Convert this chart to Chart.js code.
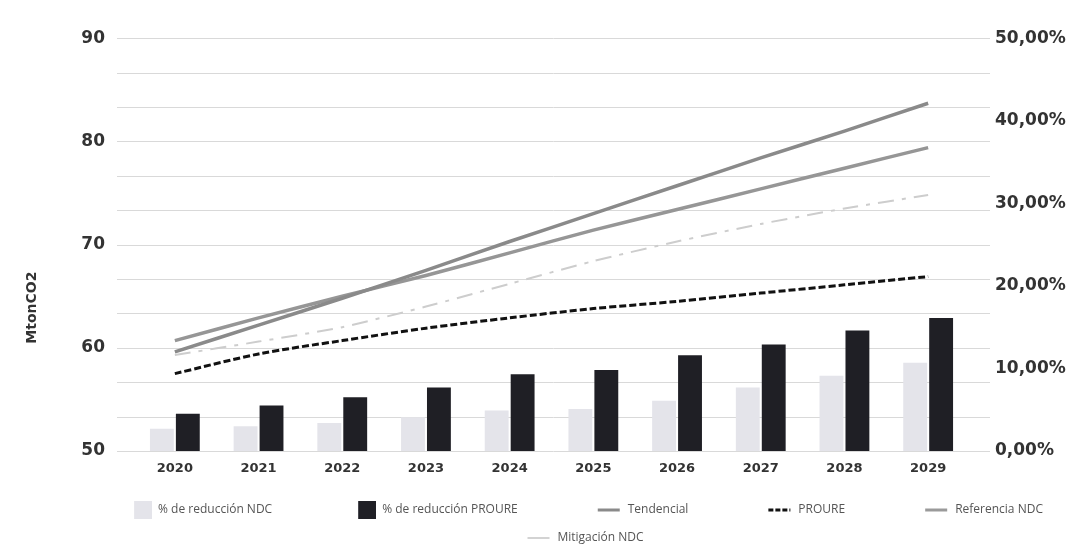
<!DOCTYPE html>
<html><head><meta charset="utf-8">
<script src="https://cdn.jsdelivr.net/npm/chart.js@4.4.1/dist/chart.umd.min.js"></script>
<style>html,body{margin:0;padding:0;background:#fff;}#wrap{width:1087px;height:554px;}</style>
</head><body><div id="wrap"><canvas id="c" width="1087" height="554"></canvas></div>
<script>
const years = ['2020','2021','2022','2023','2024','2025','2026','2027','2028','2029'];
const reduccionNDC = [2.7, 3.0, 3.4, 4.1, 4.9, 5.1, 6.1, 7.7, 9.1, 10.7];
const reduccionPROURE = [4.5, 5.5, 6.5, 7.7, 9.3, 9.8, 11.6, 12.9, 14.6, 16.1];
const tendencial = [59.6, 62.2, 64.8, 67.5, 70.3, 73.0, 75.7, 78.4, 81.0, 83.7];
const proure = [57.5, 59.4, 60.7, 61.9, 62.9, 63.8, 64.5, 65.3, 66.1, 66.9];
const referenciaNDC = [60.7, 62.9, 65.0, 67.0, 69.2, 71.4, 73.4, 75.4, 77.4, 79.4];
const mitigacionNDC = [59.3, 60.6, 62.0, 64.0, 66.2, 68.4, 70.3, 72.0, 73.5, 74.8];
const leftMin = 50, leftMax = 90, leftStep = 10;
const rightMin = 0, rightMax = 50, rightStep = 10;
const gridDivisions = 12;

Chart.defaults.font.family = "'DejaVu Sans', sans-serif";

const SW = 88;
function sym(kind, color, dash, lw) {
  const W = SW, H = 18;
  const c = document.createElement('canvas'); c.width = W; c.height = H;
  const g = c.getContext('2d');
  if (kind === 'rect') { g.fillStyle = color; g.fillRect(W - 18, 0, 18, 18); }
  else {
    g.strokeStyle = color; g.lineWidth = lw; g.setLineDash(dash || []);
    g.beginPath(); g.moveTo(W - 24, H / 2); g.lineTo(W - 2, H / 2); g.stroke();
  }
  return c;
}
const symbols = [
  sym('rect', '#e4e4ea'),
  sym('rect', '#1f1f25'),
  sym('line', '#8a8a8a', [], 3),
  sym('line', '#111111', [5, 2], 3),
  sym('line', '#9a9a9a', [], 3),
  sym('line', '#c4c4c4', [], 1.5)
];

const gridPlugin = {
  id: 'grid12',
  beforeDatasetsDraw(chart) {
    const {ctx, chartArea, scales} = chart;
    const y = scales.y;
    ctx.save();
    ctx.strokeStyle = '#d9d9d9'; ctx.lineWidth = 1;
    for (let i = 0; i <= gridDivisions; i++) {
      const py = Math.round(y.getPixelForValue(leftMin + i * (leftMax - leftMin) / gridDivisions)) + 0.5;
      ctx.beginPath(); ctx.moveTo(chartArea.left - 16, py); ctx.lineTo(chartArea.right + 20, py); ctx.stroke();
    }
    ctx.restore();
  }
};

new Chart(document.getElementById('c'), {
  data: {
    labels: years,
    datasets: [
      { type: 'bar', label: '% de reducción NDC', data: reduccionNDC, yAxisID: 'y1', backgroundColor: '#e4e4ea', order: 2, categoryPercentage: 0.62, barPercentage: 0.92 },
      { type: 'bar', label: '% de reducción PROURE', data: reduccionPROURE, yAxisID: 'y1', backgroundColor: '#1f1f25', order: 2, categoryPercentage: 0.62, barPercentage: 0.92 },
      { type: 'line', label: 'Tendencial', data: tendencial, yAxisID: 'y', borderColor: '#8a8a8a', borderWidth: 3.5, pointRadius: 0, tension: 0.2, order: 1 },
      { type: 'line', label: 'PROURE', data: proure, yAxisID: 'y', borderColor: '#111111', borderWidth: 3, borderDash: [7, 3], pointRadius: 0, tension: 0.3, order: 0 },
      { type: 'line', label: 'Referencia NDC', data: referenciaNDC, yAxisID: 'y', borderColor: '#969696', borderWidth: 3.5, pointRadius: 0, tension: 0.2, order: 1 },
      { type: 'line', label: 'Mitigación NDC', data: mitigacionNDC, yAxisID: 'y', borderColor: '#cdcdcd', borderWidth: 2, borderDash: [16, 8, 4, 8], pointRadius: 0, tension: 0.2, order: 1 }
    ]
  },
  options: {
    responsive: false, animation: false, devicePixelRatio: 1,
    layout: { padding: { left: 20, right: 0, top: 38, bottom: 0 } },
    plugins: {
      tooltip: { enabled: false },
      legend: {
        position: 'bottom',
        labels: {
          usePointStyle: true, pointStyleWidth: SW, padding: 16,
          font: { size: 12, family: "'Open Sans', sans-serif" }, color: '#555',
          generateLabels(chart) {
            return chart.data.datasets.map((ds, i) => ({
              text: ds.label, pointStyle: symbols[i], fillStyle: 'transparent', strokeStyle: 'transparent',
              lineWidth: 0, hidden: false, datasetIndex: i, fontColor: '#555'
            }));
          }
        }
      }
    },
    scales: {
      x: {
        grid: { display: false, drawTicks: false }, border: { display: false },
        ticks: { padding: 10, color: '#333', font: { size: 13, weight: 'bold' } },
        afterFit(s) { s.height = 37; }
      },
      y: {
        position: 'left', min: leftMin, max: leftMax,
        grid: { display: false, drawTicks: false }, border: { display: false },
        ticks: { stepSize: leftStep, padding: 28, color: '#333', font: { size: 17, weight: 'bold' } },
        title: { display: true, text: 'MtonCO2' + '\u2003'.repeat(9), color: '#333', font: { size: 14, weight: 'bold' } },
        afterFit(s) { s.width = 113; }
      },
      y1: {
        position: 'right', min: rightMin, max: rightMax,
        grid: { display: false, drawTicks: false }, border: { display: false },
        ticks: { stepSize: rightStep, padding: 25, color: '#333', font: { size: 17, weight: 'bold' },
          callback: v => v.toFixed(2).replace('.', ',') + '%' },
        afterFit(s) { s.width = 117; }
      }
    }
  },
  plugins: [gridPlugin]
});
</script></body></html>
